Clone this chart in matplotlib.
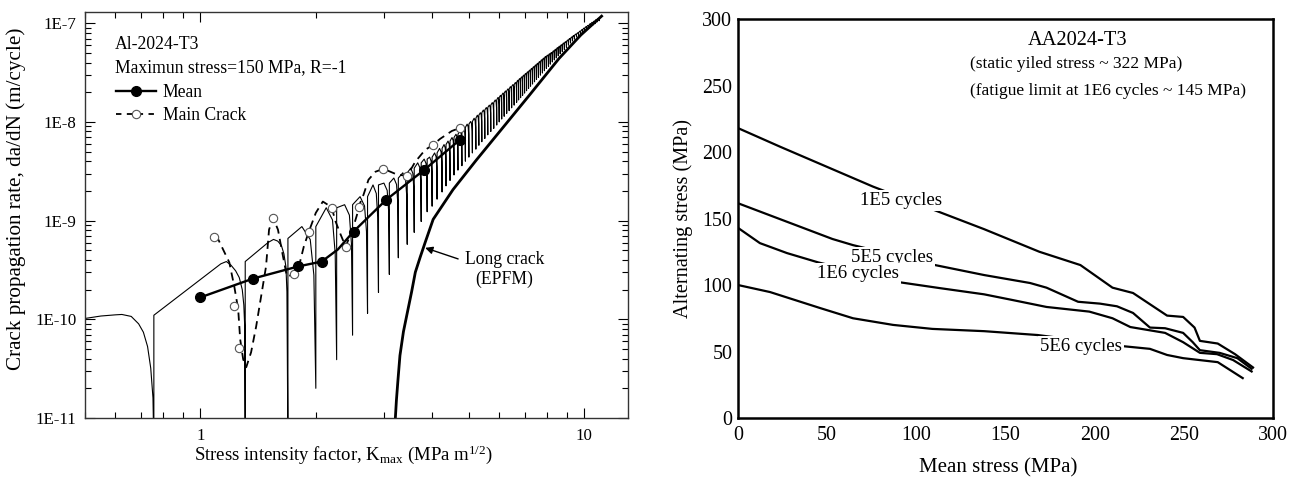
import numpy as np
import matplotlib
matplotlib.use("Agg")
import matplotlib.pyplot as plt
from matplotlib.lines import Line2D
from matplotlib.ticker import FuncFormatter, NullFormatter, LogLocator

plt.rcParams['font.family'] = 'Liberation Serif'
plt.rcParams['mathtext.fontset'] = 'custom'
plt.rcParams['mathtext.rm'] = 'Liberation Serif'
plt.rcParams['mathtext.it'] = 'Liberation Serif:italic'

# ---------------- left panel data ----------------
# mean curve: markers and the line through them
mean_k = [1.0, 1.372, 1.795, 2.07, 2.505, 3.05, 3.83, 4.74]
mean_v = [1.67e-10, 2.59e-10, 3.43e-10, 3.85e-10, 7.75e-10, 1.63e-9, 3.27e-9, 6.58e-9]
mean_line_k = [1.0, 1.372, 1.795, 2.07, 2.28, 2.505, 3.05, 3.83, 4.74]
mean_line_v = [1.67e-10, 2.59e-10, 3.43e-10, 3.85e-10, 5.1e-10, 7.75e-10, 1.63e-9, 3.27e-9, 6.58e-9]

# main crack: open circles and the dashed fit
main_k = [1.087, 1.225, 1.262, 1.546, 1.752, 1.916, 2.198, 2.389, 2.582, 2.997, 3.458, 4.04, 4.745]
main_v = [6.9e-10, 1.38e-10, 5.1e-11, 1.07e-9, 2.85e-10, 7.74e-10, 1.35e-9, 5.46e-10, 1.38e-9,
          3.35e-9, 2.85e-9, 5.86e-9, 8.7e-9]
main_line_k = [1.087, 1.113, 1.189, 1.225, 1.254, 1.269, 1.292, 1.316, 1.355, 1.397, 1.439, 1.482,
               1.509, 1.546, 1.592, 1.641, 1.680, 1.752, 1.805, 1.859, 1.916, 1.998, 2.084, 2.146,
               2.198, 2.25, 2.319, 2.389, 2.491, 2.567, 2.582, 2.66, 2.741, 2.858, 2.997, 3.125,
               3.258, 3.458, 3.627, 3.85, 4.04, 4.21, 4.52, 4.745]
main_line_v = [6.89e-10, 6.43e-10, 3.77e-10, 2.15e-10, 1.26e-10, 6.28e-11, 3.94e-11, 3.27e-11,
               4.64e-11, 8.5e-11, 1.71e-10, 3.43e-10, 8.1e-10, 1.07e-9, 8.1e-10, 4.33e-10, 2.72e-10,
               2.85e-10, 3.43e-10, 5.46e-10, 7.74e-10, 1.2e-9, 1.56e-9, 1.45e-9, 1.35e-9, 9.77e-10,
               7.22e-10, 5.46e-10, 8.1e-10, 1.2e-9, 1.38e-9, 1.83e-9, 2.6e-9, 3.13e-9, 3.35e-9,
               3.13e-9, 2.92e-9, 2.85e-9, 3.94e-9, 5.21e-9, 5.86e-9, 6.73e-9, 8.1e-9, 8.7e-9]

# long crack (EPFM)
lc_k = [3.22, 3.24, 3.27, 3.31, 3.38, 3.46, 3.55, 3.63, 3.74, 3.85, 4.04, 4.55, 5.24, 6.13,
        7.2, 8.6, 9.8, 11.1]
lc_v = [1e-11, 1.5e-11, 2.4e-11, 4.3e-11, 7.5e-11, 1.17e-10, 1.9e-10, 3.0e-10, 4.3e-10, 6.0e-10,
        1.03e-9, 2.06e-9, 4.13e-9, 8.7e-9, 1.87e-8, 4.4e-8, 7.6e-8, 1.18e-7]

# short crack model, first three big teeth as traced
saw_k = [0.50, 0.55, 0.60, 0.624, 0.66, 0.69, 0.71, 0.728, 0.742, 0.752, 0.756,
         0.756, 1.13, 1.168, 1.20, 1.235, 1.262, 1.285, 1.297, 1.304, 1.308,
         1.308, 1.50, 1.55, 1.59, 1.625, 1.65, 1.67, 1.68, 1.690]
saw_v = [1.02e-10, 1.08e-10, 1.11e-10, 1.12e-10, 1.07e-10, 9.0e-11, 7.4e-11, 5.3e-11, 3.2e-11, 1.6e-11, 5e-12,
         1.1e-10, 3.65e-10, 3.85e-10, 3.55e-10, 3.1e-10, 2.65e-10, 2.0e-10, 1.4e-10, 8.5e-11, 5e-12,
         3.85e-10, 6.0e-10, 6.45e-10, 6.2e-10, 5.6e-10, 4.6e-10, 3.4e-10, 1.9e-10, 5e-12]

# remaining teeth: jump positions, dip at each jump, peak of each tooth
tooth_k = [1.690, 1.998, 2.264, 2.491, 2.725, 2.910, 3.106, 3.278, 3.458, 3.606,
           3.760, 3.897,
           4.015, 4.136, 4.262, 4.364, 4.470, 4.578, 4.688, 4.801, 4.902, 5.006,
           5.112, 5.220, 5.314, 5.410, 5.508, 5.607, 5.709, 5.811, 5.916, 6.005,
           6.095, 6.187, 6.280, 6.374, 6.470, 6.568, 6.666, 6.745, 6.827, 6.909,
           6.992, 7.075, 7.160, 7.246, 7.333, 7.421, 7.509, 7.599, 7.691, 7.783,
           7.876,
           7.97, 8.07, 8.16, 8.26, 8.36, 8.46, 8.56, 8.66, 8.77, 8.88,
           8.99, 9.10, 9.21, 9.32, 9.43, 9.55, 9.67, 9.79, 9.91, 10.03,
           10.15, 10.28, 10.41, 10.54, 10.67, 10.80, 10.94, 11.08]
tooth_dip = [5e-12, 2e-11, 3.9e-11, 6.9e-11, 1.15e-10, 1.87e-10, 2.85e-10, 4.2e-10, 5.75e-10, 7.6e-10,
             9.8e-10, 1.23e-9,
             1.4e-9, 1.65e-9, 1.95e-9, 2.25e-9, 2.55e-9, 2.9e-9, 3.25e-9, 3.6e-9, 4.0e-9, 4.4e-9,
             4.85e-9, 5.3e-9, 5.8e-9, 6.3e-9, 6.8e-9, 7.4e-9, 8.0e-9, 8.6e-9, 9.3e-9, 1.0e-8,
             1.07e-8, 1.14e-8, 1.22e-8, 1.3e-8, 1.39e-8, 1.48e-8, 1.58e-8, 1.67e-8, 1.76e-8, 1.86e-8,
             1.96e-8, 2.07e-8, 2.18e-8, 2.3e-8, 2.42e-8, 2.55e-8, 2.69e-8, 2.83e-8, 2.98e-8, 3.13e-8,
             3.3e-8,
             3.48e-8, 3.66e-8, 3.85e-8, 4.05e-8, 4.25e-8, 4.45e-8, 4.67e-8, 4.9e-8, 5.15e-8, 5.4e-8,
             5.7e-8, 6.0e-8, 6.3e-8, 6.6e-8, 6.9e-8, 7.25e-8, 7.45e-8, 7.75e-8, 8.05e-8, 8.35e-8,
             8.65e-8, 8.95e-8, 9.3e-8, 9.6e-8, 9.9e-8, 1.03e-7, 1.06e-7, 1.18e-7]
tooth_peak = [8.7e-10, 1.35e-9, 1.45e-9, 1.75e-9, 2.3e-9, 2.4e-9, 2.7e-9, 3.05e-9, 3.4e-9, 3.85e-9,
              4.2e-9, 4.4e-9,
              4.85e-9, 5.4e-9, 5.9e-9, 6.4e-9, 6.95e-9, 7.5e-9, 8.15e-9, 8.8e-9, 9.5e-9, 1.01e-8,
              1.09e-8, 1.17e-8, 1.24e-8, 1.32e-8, 1.40e-8, 1.48e-8, 1.57e-8, 1.67e-8, 1.77e-8, 1.86e-8,
              1.96e-8, 2.06e-8, 2.16e-8, 2.28e-8, 2.39e-8, 2.51e-8, 2.64e-8, 2.75e-8, 2.86e-8, 2.98e-8,
              3.10e-8, 3.22e-8, 3.35e-8, 3.49e-8, 3.63e-8, 3.78e-8, 3.93e-8, 4.09e-8, 4.26e-8, 4.43e-8,
              4.61e-8,
              4.75e-8, 4.9e-8, 5.05e-8, 5.25e-8, 5.45e-8, 5.65e-8, 5.85e-8, 6.05e-8, 6.3e-8, 6.5e-8,
              6.75e-8, 7.0e-8, 7.25e-8, 7.5e-8, 7.75e-8, 8.0e-8, 8.3e-8, 8.6e-8, 8.9e-8, 9.2e-8,
              9.5e-8, 9.85e-8, 1.02e-7, 1.05e-7, 1.09e-7, 1.12e-7, 1.15e-7]

# ---------------- right panel data ----------------
x_1e5 = [0, 23.6, 75.7, 108.8, 138, 169, 192, 210, 221.5, 240.6, 249.6, 256, 259, 269, 278.7, 288.8]
y_1e5 = [218, 204, 174, 157, 142, 125, 115, 98, 94, 77, 76, 68, 58, 56, 48, 38]
x_5e5 = [0, 53, 64.5, 110.5, 138, 163.8, 173, 190.7, 203, 212.5, 221.5, 231, 239.5, 249.6, 255,
         259, 270, 280, 288]
y_5e5 = [161.5, 134.6, 130, 115, 107.5, 101.5, 98, 87.4, 86, 84, 79, 68, 67.5, 64, 57, 51, 49, 45, 37]
x_1e6 = [0, 12.3, 27.5, 45, 91, 113, 138, 154, 173, 197, 210, 220, 239.5, 249.6, 259, 268.6, 277.6, 288]
y_1e6 = [143, 131.5, 124, 117, 102, 97.7, 93, 88.7, 83.5, 80, 75, 68.4, 64, 57, 49, 48, 43.6, 35]
x_5e6 = [0, 18, 46, 64.5, 87, 109, 138, 168, 216, 231, 240.6, 249.6, 269, 283]
y_5e6 = [100, 94.7, 82.7, 75, 70, 67, 65.3, 62.4, 54, 52, 47.4, 45, 42, 30]

curve_labels = ['1E5 cycles', '5E5 cycles', '1E6 cycles', '5E6 cycles']
label_x = [91.4, 86.4, 67.3, 192.4]
label_y = [160, 117, 105, 50.4]

fig = plt.figure(figsize=(12.99, 4.78), dpi=100)
ax1 = fig.add_axes([0.0654, 0.1255, 0.418, 0.8494])
ax2 = fig.add_axes([0.5681, 0.1255, 0.4119, 0.8347])

# build the saw-tooth line of the short crack model
sx = list(saw_k)
sy = list(saw_v)
starts = [6.6e-10] + tooth_peak[:-1]
for i, p in enumerate(tooth_peak):
    a, b = np.log10(tooth_k[i]), np.log10(tooth_k[i + 1])
    lp, ld = np.log10(p), np.log10(tooth_dip[i + 1])
    sx += [tooth_k[i], 10**(a + 0.5*(b - a)), 10**(a + 0.8*(b - a)), 10**(a + 0.93*(b - a)), tooth_k[i + 1]]
    sy += [starts[i], p, 10**(lp - 0.08*(lp - ld)), 10**(lp - 0.3*(lp - ld)), tooth_dip[i + 1]]

ax1.plot(sx, sy, color='k', lw=0.8)
ax1.plot(lc_k, lc_v, color='k', lw=2.0)
ax1.plot(main_line_k, main_line_v, color='k', lw=1.3, dashes=(4.5, 3))
ax1.plot(main_k, main_v, 'o', ms=6, mfc='white', mec='#555555', mew=0.8)
ax1.plot(mean_line_k, mean_line_v, color='k', lw=1.7)
ax1.plot(mean_k, mean_v, 'o', ms=7, color='k')

ax1.set_xscale('log')
ax1.set_yscale('log')
ax1.set_xlim(0.5, 13)
ax1.set_ylim(1e-11, 1.3e-7)
ax1.yaxis.set_major_locator(LogLocator(base=10, numticks=12))
ax1.yaxis.set_minor_locator(LogLocator(base=10, subs=np.arange(2, 10), numticks=12))
ax1.yaxis.set_major_formatter(FuncFormatter(lambda v, _: '1E%d' % round(np.log10(v))))
ax1.yaxis.set_minor_formatter(NullFormatter())
ax1.xaxis.set_major_formatter(FuncFormatter(lambda v, _: '%g' % v))
ax1.xaxis.set_minor_formatter(NullFormatter())
ax1.tick_params(which='both', direction='in', top=True, right=True, labelsize=12.2, width=0.8)
ax1.tick_params(which='major', length=7)
ax1.tick_params(which='minor', length=4)
ax1.tick_params(axis='y', pad=6)
ax1.tick_params(axis='x', pad=7)
for s in ax1.spines.values():
    s.set_linewidth(1.0)
    s.set_color('#333333')

ax1.set_xlabel(r'Stress intensity factor, K$_{\mathrm{max}}$ (MPa m$^{1/2}$)', fontsize=13.5,
               labelpad=0, x=0.477)
ax1.set_ylabel('Crack propagation rate, da/dN (m/cycle)', fontsize=15.2, labelpad=7, y=0.54)

ax1.text(0.055, 0.908, 'Al-2024-T3', transform=ax1.transAxes, fontsize=12.7, va='baseline')
ax1.text(0.055, 0.852, 'Maximun stress=150 MPa, R=-1', transform=ax1.transAxes, fontsize=12.7, va='baseline')
h_mean = Line2D([], [], color='k', lw=1.7, marker='o', ms=7)
h_main = Line2D([], [], color='k', lw=1.3, dashes=(3, 3), marker='o', ms=6, mfc='white', mec='#555555', mew=0.8)
ax1.legend([h_mean, h_main], ['Mean', 'Main Crack'], loc='upper left', bbox_to_anchor=(0.057, 0.823),
           frameon=False, fontsize=12.7, handlelength=2.3, handletextpad=0.35, labelspacing=0.36,
           borderpad=0, borderaxespad=0, numpoints=1)

ax1.annotate('Long crack\n(EPFM)', xy=(3.85, 5.3e-10), xytext=(6.2, 3.2e-10), fontsize=12.7,
             ha='center', va='center', linespacing=1.25,
             arrowprops=dict(arrowstyle='-|>', color='k', lw=1.0, mutation_scale=11,
                             relpos=(0.0, 0.72), shrinkA=3, shrinkB=0))

# ---------------- right panel ----------------
for xs, ys in [(x_1e5, y_1e5), (x_5e5, y_5e5), (x_1e6, y_1e6), (x_5e6, y_5e6)]:
    ax2.plot(xs, ys, color='k', lw=1.6)
for t, lx, ly in zip(curve_labels, label_x, label_y):
    ax2.text(lx, ly, t, ha='center', va='baseline', fontsize=13.5,
             bbox=dict(fc='white', ec='none', pad=1.5))

ax2.text(190.7, 280.5, 'AA2024-T3', ha='center', va='baseline', fontsize=14.7)
ax2.text(130.1, 263, '(static yiled stress ~ 322 MPa)', ha='left', va='baseline', fontsize=12.5)
ax2.text(130.1, 243, '(fatigue limit at 1E6 cycles ~ 145 MPa)', ha='left', va='baseline', fontsize=12.5)

ax2.set_xlim(0, 300)
ax2.set_ylim(0, 300)
ax2.set_xticks(range(0, 301, 50))
ax2.set_yticks(range(0, 301, 50))
ax2.tick_params(length=0, labelsize=14.4)
ax2.tick_params(axis='y', pad=4)
ax2.tick_params(axis='x', pad=6)
for s in ax2.spines.values():
    s.set_linewidth(1.8)
ax2.set_xlabel('Mean stress (MPa)', fontsize=15, labelpad=9, x=0.487)
ax2.set_ylabel('Alternating stress (MPa)', fontsize=14.6, labelpad=7)

fig.savefig('out.png', dpi=100)
